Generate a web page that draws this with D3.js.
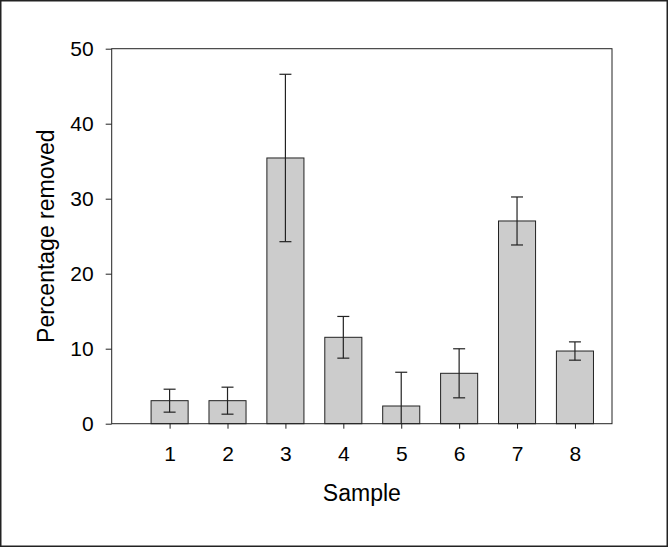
<!DOCTYPE html>
<html><head><meta charset="utf-8">
<script src="https://cdn.jsdelivr.net/npm/d3@7"></script>
<style>html,body{margin:0;padding:0;background:#fff;}svg{display:block;}</style>
</head><body>
<script>
const categories = [1, 2, 3, 4, 5, 6, 7, 8];
const values = [3.07, 3.07, 35.43, 11.52, 2.36, 6.72, 27.03, 9.69];
const errors = [1.53, 1.8, 11.16, 2.78, 4.5, 3.27, 3.2, 1.22];
const yTicks = [0, 10, 20, 30, 40, 50];

const W = 668, H = 547;
const svg = d3.select("body").append("svg").attr("width", W).attr("height", H);
svg.append("rect").attr("x", 0.75).attr("y", 0.75).attr("width", W - 1.5).attr("height", H - 1.5)
  .attr("fill", "#fff").attr("stroke", "#222").attr("stroke-width", 1.5);

const L = 111.7, R = 612, T = 48.7, B = 423.7;
const x = d3.scaleLinear().domain([0, 8.64]).range([L, R]);
const y = d3.scaleLinear().domain([0, 50]).range([B, T]);
const bw = x(0.64) - x(0);
const font = "Arial, 'Liberation Sans', sans-serif";

// bars
svg.append("g").selectAll("rect").data(categories).join("rect")
  .attr("x", (d) => x(d) - bw / 2).attr("y", (d, i) => y(values[i]))
  .attr("width", bw).attr("height", (d, i) => y(0) - y(values[i]))
  .attr("fill", "#cccccc").attr("stroke", "#222").attr("stroke-width", 1);

// error bars
const eg = svg.append("g").attr("stroke", "#222").attr("stroke-width", 1.2);
categories.forEach((c, i) => {
  const hi = values[i] + errors[i];
  const lo = Math.max(0, values[i] - errors[i]);
  eg.append("line").attr("x1", x(c)).attr("x2", x(c)).attr("y1", y(hi)).attr("y2", y(lo));
  eg.append("line").attr("x1", x(c) - 6).attr("x2", x(c) + 6).attr("y1", y(hi)).attr("y2", y(hi));
  if (values[i] - errors[i] > 0)
    eg.append("line").attr("x1", x(c) - 6).attr("x2", x(c) + 6).attr("y1", y(lo)).attr("y2", y(lo));
});

// frame
svg.append("rect").attr("x", L).attr("y", T).attr("width", R - L).attr("height", B - T)
  .attr("fill", "none").attr("stroke", "#222").attr("stroke-width", 1);

// axes
const yAxis = d3.axisLeft(y).tickValues(yTicks).tickSize(6).tickPadding(12).tickFormat(d3.format("d"));
const gy = svg.append("g").attr("transform", `translate(${L},0)`).call(yAxis);
const xAxis = d3.axisBottom(x).tickValues(categories).tickSize(5).tickPadding(17).tickFormat(d3.format("d"));
const gx = svg.append("g").attr("transform", `translate(0,${B})`).call(xAxis);
[gx, gy].forEach(g => {
  g.select(".domain").remove();
  g.selectAll("line").attr("stroke", "#222");
  g.selectAll("text").attr("font-family", font).attr("font-size", 21).attr("fill", "#000");
});

svg.append("text").attr("x", (L + R) / 2).attr("y", 501).attr("text-anchor", "middle")
  .attr("font-family", font).attr("font-size", 23).text("Sample");
svg.append("text").attr("transform", `translate(54,${(T + B) / 2}) rotate(-90)`).attr("text-anchor", "middle")
  .attr("font-family", font).attr("font-size", 23).text("Percentage removed");
</script>
</body></html>
